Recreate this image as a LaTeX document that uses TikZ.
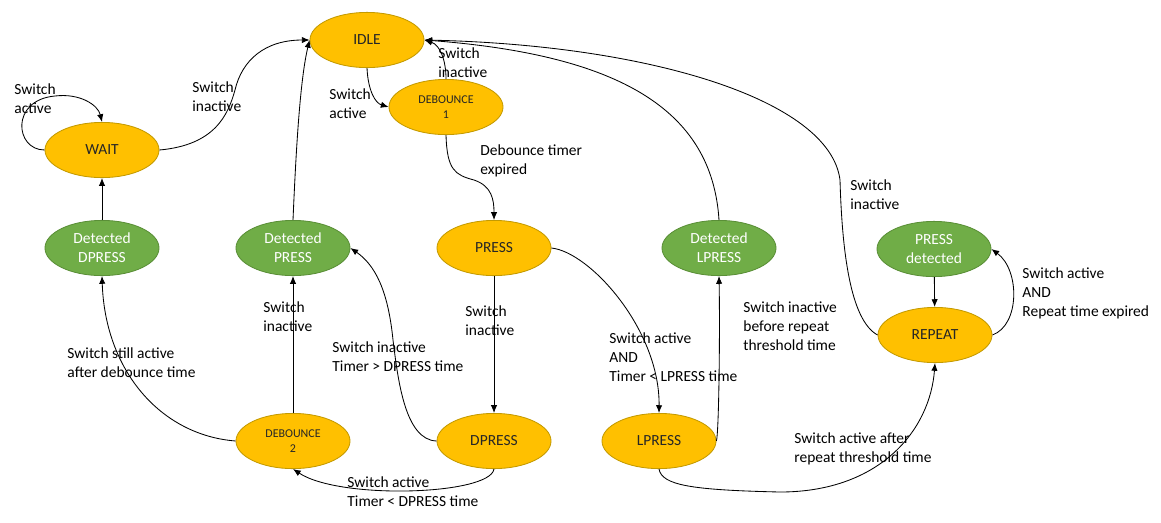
\documentclass[tikz,border=0pt]{standalone}
\usepackage{fontspec}
\setmainfont{Carlito}
\usepackage{tikz}
\usetikzlibrary{shapes,arrows.meta,positioning}
\definecolor{amber}{HTML}{FFC000}
\definecolor{amberline}{HTML}{C49A00}
\definecolor{leaf}{HTML}{70AD47}
\definecolor{leafline}{HTML}{5A8F37}
\tikzstyle{state} = [draw=amberline, fill=amber, ellipse, minimum width=2.85cm, minimum height=1.38cm, inner sep=0pt, text=black!85, font=\fontsize{11}{13.5}\selectfont, align=center]
\tikzstyle{detect} = [state, draw=leafline, fill=leaf, text=white]
\tikzstyle{small} = [font=\fontsize{8.5}{10.7}\selectfont]
\tikzstyle{cond} = [anchor=north west, inner sep=0pt, align=left, font=\fontsize{11}{13.5}\selectfont]

\begin{document}
\begin{tikzpicture}[x=0.025cm,y=-0.025cm,>={Latex[length=5.5pt,width=4.5pt]},line width=0.6pt]
    \useasboundingbox (0,0) rectangle (1161,522);

    \node [state] (idle) at (367,40) {IDLE};
    \node [state] (wait) at (102,150) {WAIT};
    \node [state,small] (deb1) at (446,107) {DEBOUNCE\\1};
    \node [detect] (ddpress) at (102,248) {Detected\\DPRESS};
    \node [detect] (dpress) at (293,248) {Detected\\PRESS};
    \node [state] (press) at (494,248) {PRESS};
    \node [detect] (dlpress) at (719,248) {Detected\\LPRESS};
    \node [detect] (pdet) at (934,249) {PRESS\\detected};
    \node [state] (repeat) at (935,335) {REPEAT};
    \node [state,small] (deb2) at (293,441) {DEBOUNCE\\2};
    \node [state] (dpr) at (494,441) {DPRESS};
    \node [state] (lpr) at (659,441) {LPRESS};

    \node [cond] (c1) at (14,83) {Switch\\active};
    \node [cond] (c2) at (192,81) {Switch\\inactive};
    \node [cond] (c3) at (329,88) {Switch\\active};
    \node [cond] (c4) at (438,47) {Switch\\inactive};
    \node [cond] (c5) at (480,144) {Debounce timer\\expired};
    \node [cond] (c6) at (465,305) {Switch\\inactive};
    \node [cond] (c7) at (609,332) {Switch active\\AND\\Timer < LPRESS time};
    \node [cond] (c8) at (743,301) {Switch inactive\\before repeat\\threshold time};
    \node [cond] (c9) at (850,179) {Switch\\inactive};
    \node [cond] (c10) at (1022,267) {Switch active\\AND\\Repeat time expired};
    \node [cond] (c11) at (794,432) {Switch active after\\repeat threshold time};
    \node [cond] (c12) at (347,476) {Switch active\\Timer < DPRESS time};
    \node [cond] (c13) at (332,341) {Switch inactive\\Timer > DPRESS time};
    \node [cond] (c14) at (263,301) {Switch\\inactive};
    \node [cond] (c15) at (67,347) {Switch still active\\after debounce time};

    \draw [->] (wait.west) .. controls (15,150) and (10,100) .. (55,96) .. controls (80,93) and (98,105) .. (wait.north);
    \draw [->] (wait.east) .. controls (215,145) and (228,115) .. (235,90) .. controls (242,60) and (265,40) .. (idle.west);
    \draw [->] (ddpress) -- (wait);
    \draw [->] (dpress.north) .. controls (296,150) and (300,80) .. (idle.west);
    \draw [->] (idle.south) .. controls (368,90) and (375,103) .. (deb1.west);
    \draw [->] (deb1.north) .. controls (446,60) and (440,45) .. (idle.east);
    \draw [->] (deb1.south) .. controls (447,170) and (455,175) .. (474,180) .. controls (492,186) and (494,200) .. (press.north);
    \draw [->] (press) -- (dpr);
    \draw [->] (press.east) .. controls (590,252) and (660,330) .. (lpr.north);
    \draw [->] (lpr.east) .. controls (719,430) and (720,330) .. (dlpress.south);
    \draw [->] (dlpress.north) .. controls (712,110) and (620,55) .. (idle.east);
    \draw [->] (repeat.west) .. controls (850,320) and (842,250) .. (840,180) .. controls (830,100) and (650,45) .. (idle.east);
    \draw [->] (pdet) -- (repeat);
    \draw [->] (repeat.east) .. controls (1020,325) and (1020,270) .. (pdet.east);
    \draw [->] (lpr.south) .. controls (662,485) and (690,490) .. (780,492) .. controls (880,492) and (930,430) .. (repeat.south);
    \draw [->] (dpr.south) .. controls (490,495) and (340,500) .. (deb2.south);
    \draw [->] (dpr.west) .. controls (405,440) and (398,380) .. (393,340) .. controls (388,290) and (375,265) .. (dpress.east);
    \draw [->] (deb2) -- (dpress);
    \draw [->] (deb2.west) .. controls (160,435) and (105,370) .. (ddpress.south);
\end{tikzpicture}
\end{document}
